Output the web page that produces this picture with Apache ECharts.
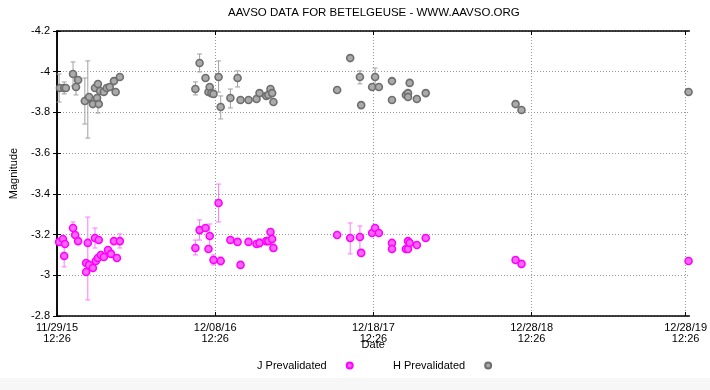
<!DOCTYPE html>
<html>
<head>
<meta charset="utf-8">
<script src="https://cdn.jsdelivr.net/npm/echarts@6/dist/echarts.min.js"></script>
<style>html,body{margin:0;padding:0;background:#fff;}#c{width:710px;height:390px;}</style>
</head>
<body>
<div id="c"></div>
<script>
// x values: days since 11/29/15 12:26
const tickDays = [0, 375, 750, 1125, 1490];
const tickLabels = ['11/29/15\n12:26', '12/08/16\n12:26', '12/18/17\n12:26', '12/28/18\n12:26', '12/28/19\n12:26'];

const jDays = [5, 14, 19, 17, 38, 43, 50, 73, 69, 69, 76, 85, 90, 92, 97, 99, 104, 111, 121, 128, 135, 142, 149,
  328, 338, 352, 362, 359, 371, 383, 388, 411, 428, 435, 454, 473, 480, 496, 501, 506, 510, 513,
  664, 695, 718, 721, 747, 754, 763, 794, 794, 827, 832, 832, 836, 853, 874,
  1087, 1101, 1497];
const jMags = [-3.164, -3.178, -3.154, -3.095, -3.232, -3.198, -3.168, -3.159, -3.060, -3.016, -3.051, -3.036, -3.183, -3.070, -3.085, -3.173, -3.100, -3.090, -3.124, -3.105, -3.168, -3.085, -3.168,
  -3.134, -3.222, -3.232, -3.193, -3.129, -3.075, -3.355, -3.070, -3.173, -3.164, -3.051, -3.164, -3.154, -3.159, -3.168, -3.168, -3.213, -3.178, -3.134,
  -3.198, -3.183, -3.188, -3.110, -3.208, -3.232, -3.208, -3.159, -3.129, -3.129, -3.129, -3.168, -3.159, -3.149, -3.183,
  -3.075, -3.056, -3.070];

const hDays = [7, 17, 21, 38, 45, 50, 73, 66, 76, 85, 90, 95, 97, 99, 102, 111, 118, 125, 135, 139, 149,
  328, 338, 352, 359, 362, 366, 371, 383, 388, 411, 428, 435, 454, 473, 480, 496, 501, 506, 510, 513,
  664, 695, 718, 721, 747, 754, 763, 794, 794, 827, 832, 832, 836, 853, 874,
  1087, 1101, 1497];
const hMags = [-3.920, -3.920, -3.920, -3.989, -3.925, -3.959, -3.866, -3.856, -3.876, -3.841, -3.920, -3.871, -3.940, -3.841, -3.905, -3.900, -3.920, -3.925, -3.954, -3.900, -3.974,
  -3.915, -4.043, -3.969, -3.900, -3.925, -3.895, -3.891, -3.974, -3.827, -3.871, -3.969, -3.861, -3.861, -3.866, -3.895, -3.881, -3.886, -3.915, -3.895, -3.851,
  -3.910, -4.067, -3.974, -3.836, -3.925, -3.974, -3.925, -3.954, -3.861, -3.886, -3.895, -3.876, -3.945, -3.866, -3.895,
  -3.841, -3.812, -3.900];

// error bars: day, low magnitude, high magnitude
const jErrDays = [17, 38, 73, 90, 149, 328, 338, 362, 371, 383, 388, 480, 513, 695, 718];
const jErrLow  = [-3.164, -3.262, -3.286, -3.232, -3.203, -3.173, -3.272, -3.252, -3.100, -3.448, -3.090, -3.178, -3.154, -3.257, -3.242];
const jErrHigh = [-3.041, -3.203, -2.879, -3.134, -3.134, -3.100, -3.173, -3.134, -3.051, -3.262, -3.051, -3.139, -3.119, -3.105, -3.124];

const hErrDays = [5, 17, 38, 45, 73, 66, 97, 328, 338, 383, 388, 411, 428, 718, 754];
const hErrLow  = [-3.989, -3.950, -4.048, -3.959, -4.053, -3.969, -3.950, -3.950, -4.087, -4.053, -3.881, -3.915, -4.004, -4.004, -4.018];
const hErrHigh = [-3.851, -3.891, -3.930, -3.886, -3.674, -3.743, -3.797, -3.886, -3.999, -3.900, -3.768, -3.822, -3.925, -3.940, -3.925];

const zip2 = (a, b) => a.map((v, i) => [v, b[i]]);
const zip3 = (a, b, c) => a.map((v, i) => [v, b[i], c[i]]);

function errRenderer(color) {
  return function (params, api) {
    const x = api.value(0), lo = api.value(1), hi = api.value(2);
    const p1 = api.coord([x, lo]), p2 = api.coord([x, hi]);
    const w = 2.5;
    const style = { stroke: color, lineWidth: 1 };
    return {
      type: 'group',
      children: [
        { type: 'line', shape: { x1: p1[0], y1: p1[1], x2: p2[0], y2: p2[1] }, style: style },
        { type: 'line', shape: { x1: p1[0] - w, y1: p1[1], x2: p1[0] + w, y2: p1[1] }, style: style },
        { type: 'line', shape: { x1: p2[0] - w, y1: p2[1], x2: p2[0] + w, y2: p2[1] }, style: style }
      ]
    };
  };
}

const FONT = 'Liberation Sans, Arial, sans-serif';
const chart = echarts.init(document.getElementById('c'), null, { renderer: 'canvas' });
const frame = { show: true, lineStyle: { color: '#000', width: 1.5 } };

chart.setOption({
  animation: false,
  backgroundColor: '#fff',
  textStyle: { fontFamily: FONT },
  title: {
    text: 'AAVSO DATA FOR BETELGEUSE - WWW.AAVSO.ORG',
    left: 228, top: 7, padding: 0,
    textStyle: { fontSize: 11.5, fontWeight: 'normal', color: '#000', fontFamily: FONT }
  },
  graphic: [{ type: 'rect', shape: { x: 0, y: 378, width: 710, height: 12 }, style: { fill: '#f7f7f7' }, silent: true, z: -10 }],
  legend: [
    { data: ['J Prevalidated'], left: 257, top: 360, align: 'right', padding: 0, itemWidth: 36, itemHeight: 6,
      textStyle: { fontSize: 11, color: '#000', fontFamily: FONT }, selectedMode: false },
    { data: ['H Prevalidated'], left: 393, top: 360, align: 'right', padding: 0, itemWidth: 36, itemHeight: 6,
      textStyle: { fontSize: 11, color: '#000', fontFamily: FONT }, selectedMode: false }
  ],
  grid: { left: 55, top: 31, right: 20.5, bottom: 74, containLabel: false },
  xAxis: [
    { type: 'value', min: 0, max: 1499, position: 'bottom',
      name: 'Date', nameLocation: 'middle', nameGap: 23, nameMoveOverlap: false,
      nameTextStyle: { fontSize: 11, color: '#000', fontFamily: FONT },
      axisLine: frame,
      axisTick: { show: true, inside: true, length: 4, customValues: tickDays, lineStyle: { color: '#000' } },
      axisLabel: { customValues: tickDays, margin: 6, fontSize: 11, color: '#000', lineHeight: 11, fontFamily: FONT,
        formatter: v => { const i = tickDays.indexOf(Math.round(v)); return i >= 0 ? tickLabels[i] : ''; } },
      splitLine: { show: true, lineStyle: { color: '#999', type: [1, 2], width: 1 } }
    },
    { type: 'value', min: 0, max: 1499, position: 'top',
      axisLine: frame,
      axisTick: { show: true, inside: true, length: 4, customValues: tickDays, lineStyle: { color: '#000' } },
      axisLabel: { show: false }, splitLine: { show: false }
    }
  ],
  yAxis: [
    { type: 'value', inverse: true, min: -4.2, max: -2.8, interval: 0.2, position: 'left',
      name: 'Magnitude', nameLocation: 'middle', nameGap: 38, nameMoveOverlap: false,
      nameTextStyle: { fontSize: 11, color: '#000', fontFamily: FONT },
      axisLine: frame,
      axisTick: { show: true, inside: true, length: 4, lineStyle: { color: '#000' } },
      axisLabel: { margin: 7, fontSize: 11, color: '#000', fontFamily: FONT },
      splitLine: { show: true, lineStyle: { color: '#999', type: [1, 2], width: 1 } }
    },
    { type: 'value', inverse: true, min: -4.2, max: -2.8, interval: 0.2, position: 'right',
      axisLine: frame,
      axisTick: { show: true, inside: true, length: 4, lineStyle: { color: '#000' } },
      axisLabel: { show: false }, splitLine: { show: false }
    }
  ],
  series: [
    { name: 'J err', type: 'custom', xAxisIndex: 0, yAxisIndex: 0, data: zip3(jErrDays, jErrLow, jErrHigh),
      encode: { x: 0, y: [1, 2] }, renderItem: errRenderer('#ff77ff'), z: 2, silent: true },
    { name: 'H err', type: 'custom', xAxisIndex: 0, yAxisIndex: 0, data: zip3(hErrDays, hErrLow, hErrHigh),
      encode: { x: 0, y: [1, 2] }, renderItem: errRenderer('#a0a0a0'), z: 2, silent: true },
    { name: 'J Prevalidated', type: 'scatter', xAxisIndex: 0, yAxisIndex: 0, data: zip2(jDays, jMags),
      symbol: 'circle', symbolSize: 7,
      itemStyle: { color: '#ff66ff', borderColor: '#ff00ff', borderWidth: 1.6, opacity: 1 }, z: 3 },
    { name: 'H Prevalidated', type: 'scatter', xAxisIndex: 0, yAxisIndex: 0, data: zip2(hDays, hMags),
      symbol: 'circle', symbolSize: 7,
      itemStyle: { color: '#aaaaaa', borderColor: '#6e6e6e', borderWidth: 1.6, opacity: 1 }, z: 3 }
  ]
});
</script>
</body>
</html>
